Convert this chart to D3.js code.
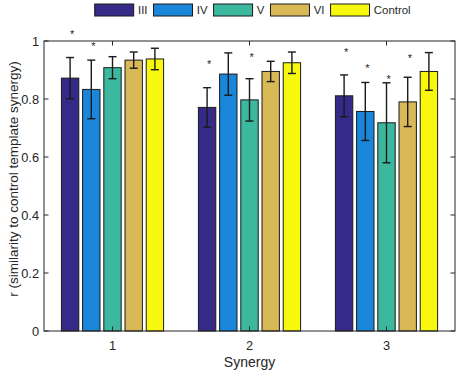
<!DOCTYPE html>
<html>
<head>
<meta charset="utf-8">
<script src="https://cdn.jsdelivr.net/npm/d3@7"></script>
<style>
  body { margin: 0; background: #fff; }
  svg text { font-family: "Liberation Sans", Arial, sans-serif; fill: #262626; }
</style>
</head>
<body>
<div id="chart"></div>
<script>
const series = ["III", "IV", "V", "VI", "Control"];
const synergies = [1, 2, 3];
const colors = ["#352a87", "#1a86d9", "#3bb89e", "#d9b856", "#f8f80f"];

// mean r per synergy (1, 2, 3)
const meanIII = [0.872, 0.771, 0.811];
const meanIV = [0.833, 0.886, 0.757];
const meanV = [0.908, 0.797, 0.718];
const meanVI = [0.934, 0.895, 0.790];
const meanControl = [0.938, 0.925, 0.895];

// error bar half-lengths
const errIII = [0.071, 0.068, 0.072];
const errIV = [0.101, 0.073, 0.100];
const errV = [0.038, 0.073, 0.138];
const errVI = [0.028, 0.035, 0.085];
const errControl = [0.037, 0.037, 0.065];

// significance markers: [synergy, series, y]
const stars = [
  [1, "III", 1.03], [1, "IV", 0.991],
  [2, "III", 0.929], [2, "V", 0.952],
  [3, "III", 0.969], [3, "IV", 0.915], [3, "V", 0.877], [3, "VI", 0.948]
];

const yTicks = [0, 0.2, 0.4, 0.6, 0.8, 1];

const means = [meanIII, meanIV, meanV, meanVI, meanControl];
const errs = [errIII, errIV, errV, errVI, errControl];

const width = 459;
const height = 374;
const mLeft = 44, mRight = 455, mTop = 41, mBottom = 331;

const svg = d3.select("#chart")
  .append("svg")
  .attr("width", width)
  .attr("height", height);

const x = d3.scaleLinear().domain([0.5, 3.5]).range([mLeft, mRight]);
const y = d3.scaleLinear().domain([0, 1]).range([mBottom, mTop]);

const inner = d3.scaleBand()
  .domain(series)
  .range([-53, 53])
  .paddingInner(0.18)
  .paddingOuter(0.09);

const rows = [];
series.forEach((s, i) => {
  synergies.forEach((g, j) => {
    rows.push({ s, g, color: colors[i], mean: means[i][j], err: errs[i][j] });
  });
});

const barX = (d) => x(d.g) + inner(d.s);
const barC = (d) => barX(d) + inner.bandwidth() / 2;

// bars
svg.selectAll("rect.bar")
  .data(rows)
  .enter()
  .append("rect")
  .attr("class", "bar")
  .attr("x", barX)
  .attr("y", (d) => y(d.mean))
  .attr("width", inner.bandwidth())
  .attr("height", (d) => y(0) - y(d.mean))
  .attr("fill", (d) => d.color)
  .attr("stroke", "#1a1a1a")
  .attr("stroke-width", 1);

// error bars
const eb = svg.selectAll("g.err")
  .data(rows)
  .enter()
  .append("g")
  .attr("class", "err")
  .attr("stroke", "#1a1a1a")
  .attr("stroke-width", 1.4);

eb.append("line")
  .attr("x1", barC).attr("x2", barC)
  .attr("y1", (d) => y(d.mean + d.err))
  .attr("y2", (d) => y(d.mean - d.err));

eb.append("line")
  .attr("x1", (d) => barC(d) - 4).attr("x2", (d) => barC(d) + 4)
  .attr("y1", (d) => y(d.mean + d.err))
  .attr("y2", (d) => y(d.mean + d.err));

eb.append("line")
  .attr("x1", (d) => barC(d) - 4).attr("x2", (d) => barC(d) + 4)
  .attr("y1", (d) => y(d.mean - d.err))
  .attr("y2", (d) => y(d.mean - d.err));

// axes box
svg.append("rect")
  .attr("x", mLeft)
  .attr("y", mTop)
  .attr("width", mRight - mLeft)
  .attr("height", mBottom - mTop)
  .attr("fill", "none")
  .attr("stroke", "#262626")
  .attr("stroke-width", 1);

const tickLen = 4.5;

// y ticks (left and right, pointing inward)
yTicks.forEach((t) => {
  svg.append("line")
    .attr("x1", mLeft).attr("x2", mLeft + tickLen)
    .attr("y1", y(t)).attr("y2", y(t))
    .attr("stroke", "#262626");
  svg.append("line")
    .attr("x1", mRight).attr("x2", mRight - tickLen)
    .attr("y1", y(t)).attr("y2", y(t))
    .attr("stroke", "#262626");
  svg.append("text")
    .attr("x", mLeft - 5)
    .attr("y", y(t))
    .attr("dy", "0.36em")
    .attr("text-anchor", "end")
    .style("font-size", "12.8px")
    .text(d3.format("~g")(t));
});

// x ticks (bottom and top)
synergies.forEach((g) => {
  svg.append("line")
    .attr("x1", x(g)).attr("x2", x(g))
    .attr("y1", mBottom).attr("y2", mBottom - tickLen)
    .attr("stroke", "#262626");
  svg.append("line")
    .attr("x1", x(g)).attr("x2", x(g))
    .attr("y1", mTop).attr("y2", mTop + tickLen)
    .attr("stroke", "#262626");
  svg.append("text")
    .attr("x", x(g))
    .attr("y", mBottom + 19)
    .attr("text-anchor", "middle")
    .style("font-size", "12.8px")
    .text(g);
});

// stars
svg.selectAll("text.star")
  .data(stars)
  .enter()
  .append("text")
  .attr("class", "star")
  .attr("x", (d) => x(d[0]) + inner(d[1]) + inner.bandwidth() / 2)
  .attr("y", (d) => y(d[2]) + 6)
  .attr("text-anchor", "start")
  .style("font-size", "11px")
  .text("*");

// axis labels
svg.append("text")
  .attr("x", (mLeft + mRight) / 2)
  .attr("y", 367)
  .attr("text-anchor", "middle")
  .style("font-size", "14px")
  .text("Synergy");

svg.append("text")
  .attr("transform", "translate(17.5,179) rotate(-90)")
  .attr("text-anchor", "middle")
  .style("font-size", "13.5px")
  .text("r (similarity to control template synergy)");

// legend
const legend = svg.append("g").attr("transform", "translate(94.7,4)");
let lx = 0;
series.forEach((s, i) => {
  const item = legend.append("g").attr("transform", `translate(${lx},0)`);
  item.append("rect")
    .attr("x", 0).attr("y", 0)
    .attr("width", 39).attr("height", 12)
    .attr("fill", colors[i])
    .attr("stroke", "#1a1a1a")
    .attr("stroke-width", 1);
  const t = item.append("text")
    .attr("x", 43.3)
    .attr("y", 10.3)
    .style("font-size", "11.4px")
    .text(s);
  lx += 43.3 + t.node().getComputedTextLength() + 6;
});
</script>
</body>
</html>
